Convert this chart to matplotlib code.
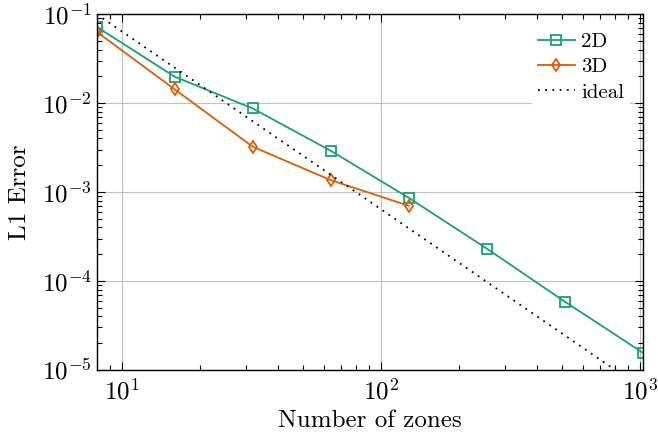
import matplotlib
matplotlib.use("Agg")
import matplotlib.pyplot as plt
import numpy as np

plt.rcParams["font.family"] = "serif"
plt.rcParams["font.serif"] = ["cmr10"]
plt.rcParams["mathtext.fontset"] = "cm"
plt.rcParams["axes.formatter.use_mathtext"] = True

# Convergence data
zones_2d = [8, 16, 32, 64, 128, 256, 512, 1024]
err_2d = [0.072, 0.0198, 0.0087, 0.00291, 0.00086, 2.31e-4, 5.85e-5, 1.56e-5]
zones_3d = [8, 16, 32, 64, 128]
err_3d = [0.0633, 0.01426, 0.00323, 0.00136, 7.0e-4]
ideal_ref_zones = 8
ideal_ref_err = 0.1
ideal_order = 2

green = "#1b9e77"
orange = "#d95f02"

fig = plt.figure(figsize=(6.58, 4.43), dpi=100)
ax = fig.add_axes([0.147, 0.165, 0.83, 0.803])

ax.set_xscale("log")
ax.set_yscale("log")
ax.set_xlim(8, 1024)
ax.set_ylim(1e-5, 1e-1)

ax.grid(True, which="major", color="#c0c0c0", linewidth=0.8)
ax.set_axisbelow(True)

ax.plot(zones_2d, err_2d, color=green, lw=1.3, marker="s", markersize=6.5,
        markerfacecolor="none", markeredgecolor=green, markeredgewidth=1.3, label="2D")
ax.plot(zones_3d, err_3d, color=orange, lw=1.3, marker="d", markersize=6.5,
        markerfacecolor="none", markeredgecolor=orange, markeredgewidth=1.3, label="3D")

xi = np.array([8, 1024], dtype=float)
ideal = ideal_ref_err * (ideal_ref_zones / xi) ** ideal_order
ax.plot(xi, ideal, color="black", lw=1.3, linestyle=(0, (1, 3)), label="ideal")

ax.tick_params(which="both", direction="in", top=True, right=True, labelsize=18, width=0.8)
ax.tick_params(which="major", length=6)
ax.tick_params(which="minor", length=3.5)
ax.tick_params(axis="x", pad=6)
for s in ax.spines.values():
    s.set_linewidth(1.0)

ax.set_xlabel("Number of zones", fontsize=18, labelpad=4)
ax.set_ylabel("L1 Error", fontsize=18, labelpad=8)

leg = ax.legend(loc="upper left", bbox_to_anchor=(0.797, 0.966), fontsize=15,
                frameon=True, fancybox=False, edgecolor="none", facecolor="white",
                framealpha=1, handlelength=1.75, labelspacing=0.32, borderpad=0.3,
                borderaxespad=0, handletextpad=0.3)

fig.savefig("out.png", dpi=100)
